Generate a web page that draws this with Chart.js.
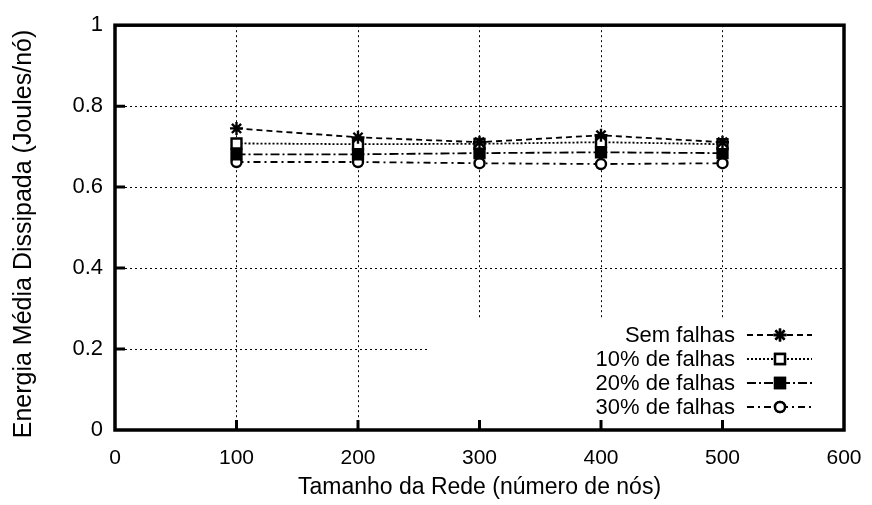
<!DOCTYPE html>
<html>
<head>
<meta charset="utf-8">
<script src="https://cdn.jsdelivr.net/npm/chart.js@4/dist/chart.umd.min.js"></script>
<style>
  html, body { margin: 0; padding: 0; background: #fff; }
  #chart { display: block; }
</style>
</head>
<body>
<canvas id="chart" width="872" height="505"></canvas>
<script>
const fontFamily = '"Liberation Sans", Arial, Helvetica, sans-serif'

// data
const networkSizes = [100, 200, 300, 400, 500]
const semFalhas = [0.745, 0.723, 0.711, 0.728, 0.711]
const falhas10 = [0.708, 0.706, 0.707, 0.711, 0.706]
const falhas20 = [0.681, 0.681, 0.684, 0.686, 0.684]
const falhas30 = [0.662, 0.662, 0.659, 0.657, 0.659]
const seriesLabels = ['Sem falhas', '10% de falhas', '20% de falhas', '30% de falhas']
const xTitle = 'Tamanho da Rede (número de nós)'
const yTitle = 'Energia Média Dissipada (Joules/nó)'

function points(values) {
    return values.map((v, i) => ({ x: networkSizes[i], y: v }))
}

const datasets = [{
        label: seriesLabels[0],
        data: points(semFalhas),
        borderDash: [6, 4],
        pointStyle: 'star',
        pointRadius: 6.5,
        backgroundColor: '#000',
    },
    {
        label: seriesLabels[1],
        data: points(falhas10),
        borderDash: [2, 2],
        pointStyle: 'rect',
        pointRadius: 7,
        backgroundColor: '#fff',
    },
    {
        label: seriesLabels[2],
        data: points(falhas20),
        borderDash: [9, 3, 2, 3],
        pointStyle: 'rect',
        pointRadius: 7,
        backgroundColor: '#000',
    },
    {
        label: seriesLabels[3],
        data: points(falhas30),
        borderDash: [7, 4, 2, 4],
        pointStyle: 'circle',
        pointRadius: 5,
        backgroundColor: '#fff',
    },
]
datasets.forEach(ds => {
    ds.borderColor = '#000'
    ds.borderWidth = 1.8
    ds.pointBorderWidth = 2.4
    ds.pointBorderColor = '#000'
    ds.pointBackgroundColor = ds.backgroundColor
    ds.fill = false
    ds.tension = 0
})

// gnuplot style key: white box over the grid, text + sample line on the right
const keyBox = { left: 430, top: 318 }
const keyPlugin = {
    id: 'gnuplotKey',
    beforeDatasetsDraw(chart) {
        const ctx = chart.ctx
        const area = chart.chartArea
        ctx.save()
        ctx.fillStyle = '#fff'
        ctx.fillRect(keyBox.left, keyBox.top, area.right - keyBox.left, area.bottom - keyBox.top)
        ctx.restore()
    },
    afterDraw(chart) {
        const ctx = chart.ctx
        const area = chart.chartArea
        const xs = chart.scales.x
        const ys = chart.scales.y
        ctx.save()

        // y axis title, placed like the original (a bit below the centre)
        ctx.save()
        ctx.translate(24, 234)
        ctx.rotate(-Math.PI / 2)
        ctx.font = '25px ' + fontFamily
        ctx.fillStyle = '#000'
        ctx.textAlign = 'center'
        ctx.textBaseline = 'middle'
        ctx.fillText(yTitle, 0, 0)
        ctx.restore()

        // legend
        ctx.font = '22px ' + fontFamily
        ctx.textAlign = 'right'
        ctx.textBaseline = 'middle'
        chart.data.datasets.forEach((ds, i) => {
            const rowY = 335 + i * 24
            ctx.fillStyle = '#000'
            ctx.fillText(ds.label, 735, rowY + 1)
            ctx.strokeStyle = '#000'
            ctx.lineWidth = ds.borderWidth
            ctx.setLineDash(ds.borderDash)
            ctx.beginPath()
            ctx.moveTo(747, rowY)
            ctx.lineTo(812, rowY)
            ctx.stroke()
            ctx.setLineDash([])
            ctx.lineWidth = ds.pointBorderWidth
            ctx.fillStyle = ds.pointBackgroundColor
            Chart.helpers.drawPoint(ctx, {
                pointStyle: ds.pointStyle,
                radius: ds.pointRadius,
                rotation: 0,
                borderWidth: ds.pointBorderWidth
            }, 780, rowY)
            if (ds.pointStyle !== 'star') ctx.fill()
            ctx.stroke()
        })

        // inward ticks
        ctx.strokeStyle = '#000'
        ctx.lineWidth = 3
        ctx.beginPath()
        xs.ticks.forEach(t => {
            if (t.value <= xs.min || t.value >= xs.max) return
            const px = xs.getPixelForValue(t.value)
            ctx.moveTo(px, area.bottom)
            ctx.lineTo(px, area.bottom - 10)
        })
        ys.ticks.forEach(t => {
            if (t.value <= ys.min || t.value >= ys.max) return
            const py = ys.getPixelForValue(t.value)
            ctx.moveTo(area.left, py)
            ctx.lineTo(area.left + 10, py)
        })
        ctx.stroke()

        // frame
        ctx.lineWidth = 3.5
        ctx.strokeRect(area.left, area.top, area.right - area.left, area.bottom - area.top)
        ctx.restore()
    }
}

const options = {
    responsive: false,
    animation: false,
    layout: {
        padding: { left: 0, right: 28, top: 22, bottom: 0 }
    },
    plugins: {
        legend: { display: false },
        tooltip: { enabled: false }
    },
    scales: {
        x: {
            type: 'linear',
            min: 0,
            max: 600,
            ticks: {
                stepSize: 100,
                color: '#000',
                padding: 16,
                font: { family: fontFamily, size: 21 }
            },
            grid: {
                color: '#000',
                lineWidth: 1,
                drawTicks: false
            },
            border: { display: false, dash: [2, 3] },
            title: {
                display: true,
                text: xTitle,
                color: '#000',
                font: { family: fontFamily, size: 23 },
                padding: { top: 0, bottom: 4 }
            },
            afterFit(scale) {
                scale.height = 75
                scale.paddingLeft = 0
                scale.paddingRight = 0
            }
        },
        y: {
            type: 'linear',
            min: 0,
            max: 1,
            ticks: {
                stepSize: 0.2,
                color: '#000',
                padding: 12,
                font: { family: fontFamily, size: 22 },
                callback: v => String(Math.round(v * 10) / 10)
            },
            grid: {
                color: '#000',
                lineWidth: 1,
                drawTicks: false
            },
            border: { display: false, dash: [2, 3] },
            title: { display: false },
            afterFit(scale) {
                scale.width = 115
            }
        }
    }
}

new Chart(document.getElementById('chart'), {
    type: 'line',
    data: { datasets: datasets },
    options: options,
    plugins: [keyPlugin]
})
</script>
</body>
</html>
